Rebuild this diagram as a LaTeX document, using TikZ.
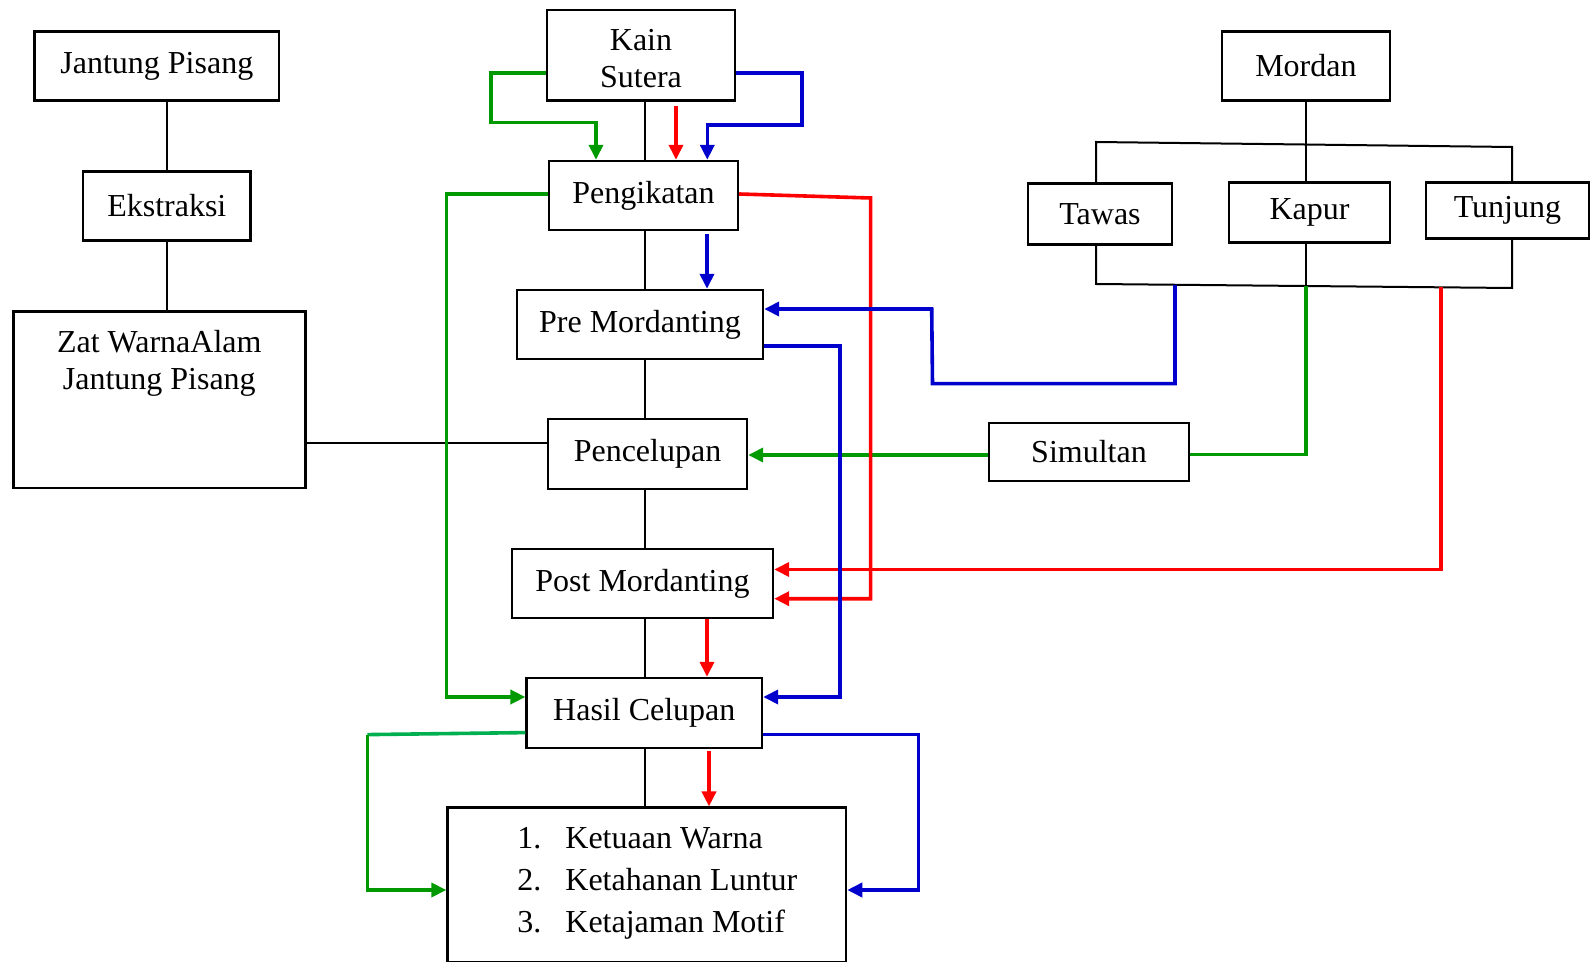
\documentclass[tikz,border=0pt]{standalone}
\usepackage{fontspec}
\setmainfont{Liberation Serif}
\usetikzlibrary{arrows.meta}
\definecolor{cgreen}{RGB}{0,153,0}
\definecolor{lgreen}{RGB}{0,176,80}
\definecolor{cblue}{RGB}{0,0,204}
\definecolor{cred}{RGB}{255,0,0}
\begin{document}
\begin{tikzpicture}[x=0.5pt,y=-0.5pt,
  box/.style={draw, line width=1.2pt, inner sep=0pt, align=center, font=\fontsize{16}{18.25}\selectfont},
  lbl/.style={inner sep=0pt, font=\fontsize{16}{18.75}\selectfont},
  conn/.style={line width=1pt},
  col/.style={line width=1.8pt},
  arr/.style={-{Triangle[length=7.5pt,width=7pt]}}
]
\useasboundingbox (0,0) rectangle (1591,962);
% boxes
\node[box, minimum width=122.25pt, minimum height=34.5pt] (jp) at (156.8,66) {Jantung Pisang};
\node[box, minimum width=83.8pt, minimum height=34.5pt] (ek) at (166.8,206) {Ekstraksi};
\node[box, minimum width=146pt, minimum height=88.25pt] (zat) at (159.3,399.8) {};
\node[lbl, align=center] (zatt) at (159.3,363.5) {Zat WarnaAlam\\Jantung Pisang};
\node[box, minimum width=94pt, minimum height=45.25pt] (kain) at (641,55.3) {};
\node[lbl, align=center] (kaint) at (641,58.5) {Kain\\Sutera};
\node[box, minimum width=94.5pt, minimum height=34.5pt] (pen) at (643.5,195.5) {Pengikatan};
\node[box, minimum width=123pt, minimum height=34.5pt] (pre) at (640,324.5) {Pre Mordanting};
\node[box, minimum width=99.5pt, minimum height=35pt] (cel) at (647.5,454) {Pencelupan};
\node[box, minimum width=130.5pt, minimum height=34.5pt] (post) at (642.5,583.5) {Post Mordanting};
\node[box, minimum width=117.7pt, minimum height=35pt] (has) at (644.3,713) {Hasil Celupan};
\node[box, minimum width=199.25pt, minimum height=77.15pt] (res) at (646.8,884.8) {};
\node[lbl, align=left, anchor=west, font=\fontsize{16}{21}\selectfont] (rest) at (517,883.5)
  {\makebox[24pt][l]{1.}Ketuaan Warna\\\makebox[24pt][l]{2.}Ketahanan Luntur\\\makebox[24pt][l]{3.}Ketajaman Motif};
\node[box, minimum width=84.15pt, minimum height=34.5pt] (mordan) at (1305.9,66) {Mordan};
\node[box, minimum width=72pt, minimum height=30.4pt] (tawas) at (1100,214.1) {Tawas};
\node[box, minimum width=80.5pt, minimum height=30pt] (kapur) at (1309.5,212.5) {Kapur};
\node[box, minimum width=81.65pt, minimum height=28pt] (tunjung) at (1507.4,210.5) {Tunjung};
\node[box, minimum width=100pt, minimum height=29pt] (sim) at (1089,452) {Simultan};
% black connectors
\coordinate (sx) at (645.4,0);
\draw[conn] (kain.south -| sx) -- (pen.north -| sx);
\draw[conn] (pen.south -| sx) -- (pre.north -| sx);
\draw[conn] (pre.south -| sx) -- (cel.north -| sx);
\draw[conn] (cel.south -| sx) -- (post.north -| sx);
\draw[conn] (post.south -| sx) -- (has.north -| sx);
\draw[conn] (has.south -| sx) -- (res.north -| sx);
\draw[conn] (ek.north |- jp.south) -- (ek.north);
\draw[conn] (ek.south) -- (ek.south |- zat.north);
\coordinate (zy) at (0,443.4);
\draw[conn] (zat.east |- zy) -- (cel.west |- zy);
\coordinate (tl) at (1096,142);
\coordinate (tr) at (1512,147);
\coordinate (bl) at (1096,284);
\coordinate (br) at (1512,288);
\coordinate (kb) at (1305.9,286);
\draw[conn] (tawas.north -| tl) -- (tl) -- (tr) -- (tunjung.north -| tr);
\draw[conn] (mordan.south) -- (kapur.north -| mordan.south);
\draw[conn] (tawas.south -| bl) -- (bl) -- (br) -- (tunjung.south -| br);
\draw[conn] (kapur.south -| kb) -- (kb);
% green
\draw[col,cgreen,arr] (kain.west |- 0,73.3) -- (491,73.3) -- (491,122.7) -- (596,122.7) -- (pen.north -| 596,0);
\draw[col,cgreen,arr] (pen.west |- 0,194) -- (446.5,194) -- (446.5,697) -- (has.west |- 0,697);
\coordinate (g3) at (367.3,734.6);
\draw[col,lgreen] (has.west |- 0,732.6) -- (g3);
\draw[col,cgreen,arr] (g3) -- (367.3,890) -- (res.west |- 0,890);
\draw[col,cgreen] (kb) -- (1305.9,454.6) -- (sim.east |- 0,454.6);
\draw[col,cgreen,arr] (sim.west |- 0,455) -- (cel.east |- 0,455);
% red
\coordinate (r1) at (676,106);
\draw[col,cred,arr] (r1) -- (pen.north -| r1);
\draw[col,cred,arr] (pen.east |- 0,194) -- (870.6,198) -- (870.6,598.7) -- (post.east |- 0,598.7);
\coordinate (r3) at (1441,287.3);
\draw[col,cred,arr] (r3) -- (1441,569.5) -- (post.east |- 0,569.5);
\draw[col,cred,arr] (post.south -| 707,0) -- (has.north -| 707,0);
\coordinate (r5) at (709,751);
\draw[col,cred,arr] (r5) -- (res.north -| r5);
% blue
\draw[col,cblue,arr] (kain.east |- 0,73) -- (801.7,73) -- (801.7,125) -- (707.3,125) -- (pen.north -| 707.3,0);
\coordinate (b2) at (707,234);
\draw[col,cblue,arr] (b2) -- (pre.north -| b2);
\coordinate (b3) at (1175,284.8);
\draw[col,cblue,arr] (b3) -- (1175,383.6) -- (932.5,383.6) -- (931.7,309) -- (pre.east |- 0,309);
\draw[col,cblue,arr] (pre.east |- 0,346) -- (840,346) -- (840,697) -- (has.east |- 0,697);
\draw[col,cblue,arr] (has.east |- 0,734.6) -- (918.3,734.6) -- (918.3,890) -- (res.east |- 0,890);
\end{tikzpicture}
\end{document}
